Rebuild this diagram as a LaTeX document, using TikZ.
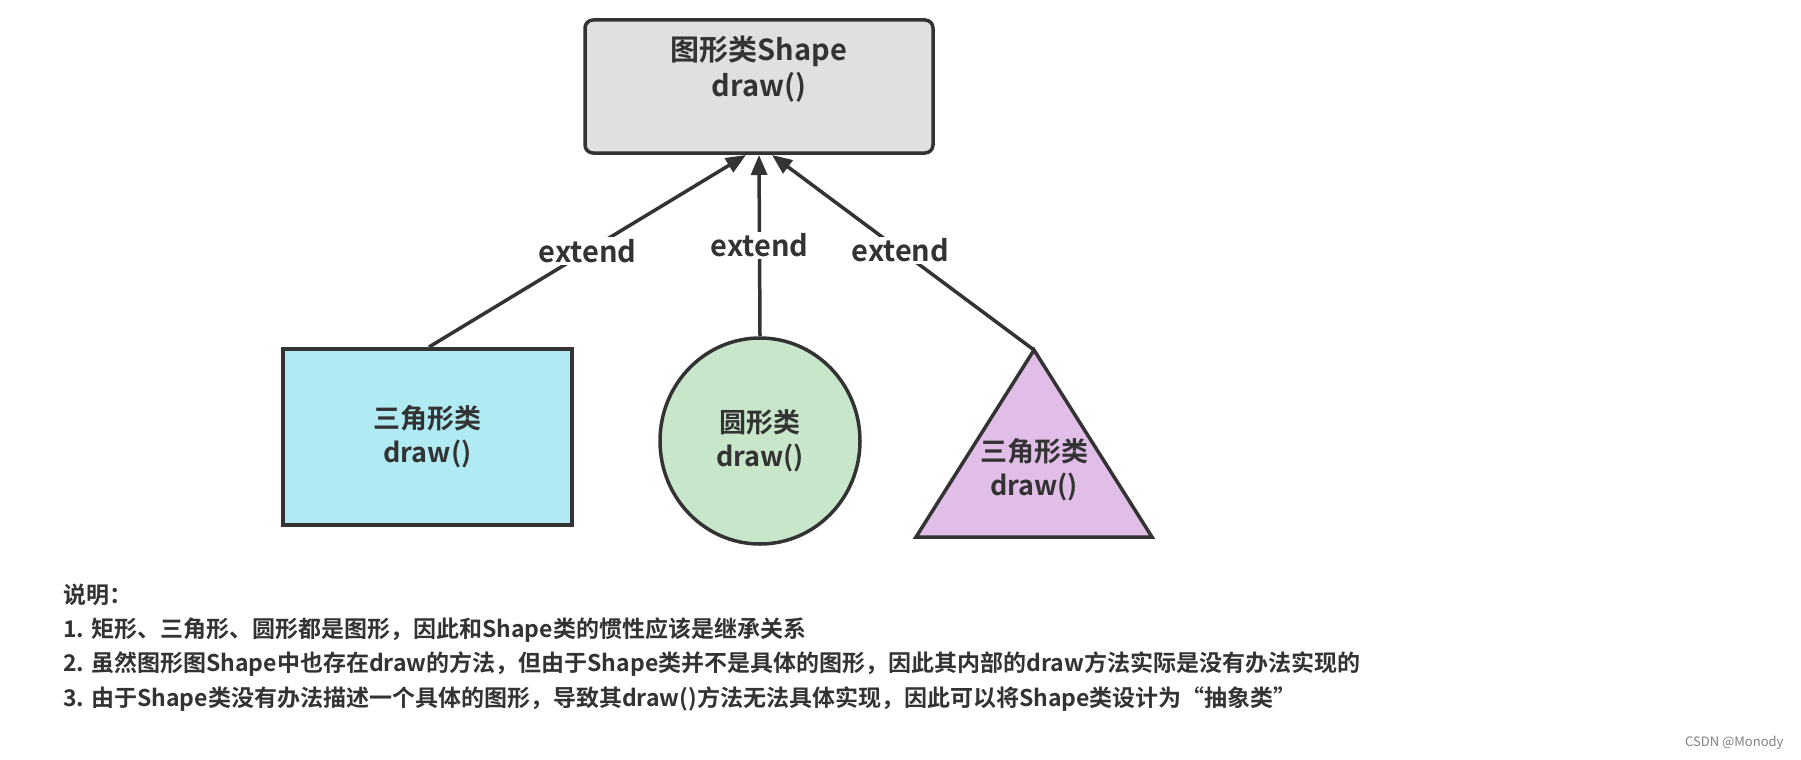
\documentclass[tikz,border=0pt]{standalone}
\usepackage{fontspec}
\setmainfont{Noto Sans CJK SC}[BoldFont={* Bold}]
\usetikzlibrary{arrows.meta,shapes.geometric}
\definecolor{ln}{HTML}{333333}
\definecolor{tx}{HTML}{333333}
\definecolor{cgray}{HTML}{E0E0E0}
\definecolor{ccyan}{HTML}{B0EBF3}
\definecolor{cgreen}{HTML}{C8E6C9}
\definecolor{cpurple}{HTML}{E1BEE7}
\tikzset{box/.style={draw=ln,line width=3.5pt,text=tx,font=\bfseries\fontsize{27}{34}\selectfont,align=center},
 conn/.style={draw=ln,line width=3.5pt,-{Triangle[length=20pt,width=16pt]}},
 lbl/.style={fill=white,text=tx,font=\bfseries\fontsize{29}{32}\selectfont,inner sep=2pt},
 note/.style={anchor=west,text=tx,font=\bfseries\fontsize{23}{28}\selectfont,inner sep=0pt}}
\begin{document}
\begin{tikzpicture}[x=1pt,y=-1pt]
\useasboundingbox (0,0) rectangle (1801,760);
\node[box,fill=cgray,rounded corners=8pt,minimum width=348pt,minimum height=133pt] (shape) at (759,86.5) {};
\node[text=tx,font=\bfseries\fontsize{29}{36}\selectfont,align=center] (st) at (759,69) {图形类Shape\\draw()};
\node[box,fill=ccyan,minimum width=289pt,minimum height=176pt] (rect) at (427.5,437) {三角形类\\draw()};
\node[box,fill=cgreen,ellipse,minimum width=200pt,minimum height=206pt] (circ) at (760,441) {圆形类\\draw()};
\coordinate (ta) at (1034,350);
\coordinate (tl) at (916,537);
\coordinate (tr) at (1152,537);
\draw[ln,line width=3.5pt,fill=cpurple,line join=miter] (ta)--(tl)--(tr)--cycle;
\node[text=tx,font=\bfseries\fontsize{27}{34}\selectfont,align=center] (tri) at (1034,470) {三角形类\\draw()};
\coordinate (topl) at (746,155);
\coordinate (topm) at (759,155);
\coordinate (topr) at (772,155);
\coordinate (rtop) at (429,347);
\draw[conn] (rtop) -- node[lbl,pos=0.5] {extend} (topl);
\draw[conn] (circ.north) -- node[lbl,pos=0.5] {extend} (topm);
\draw[conn] (ta) -- node[lbl,pos=0.51] {extend} (topr);
\node[note] (n0) at (63,595) {说明：};
\node[note] (n1) at (63,630) {1. 矩形、三角形、圆形都是图形，因此和Shape类的惯性应该是继承关系};
\node[note] (n2) at (63,664) {2. 虽然图形图Shape中也存在draw的方法，但由于Shape类并不是具体的图形，因此其内部的draw方法实际是没有办法实现的};
\node[note] (n3) at (63,699) {3. 由于Shape类没有办法描述一个具体的图形，导致其draw()方法无法具体实现，因此可以将Shape类设计为“抽象类”};
\node[anchor=east,text=gray,font=\fontsize{13}{15}\selectfont] (wm) at (1787,743) {CSDN @Monody};
\end{tikzpicture}
\end{document}
